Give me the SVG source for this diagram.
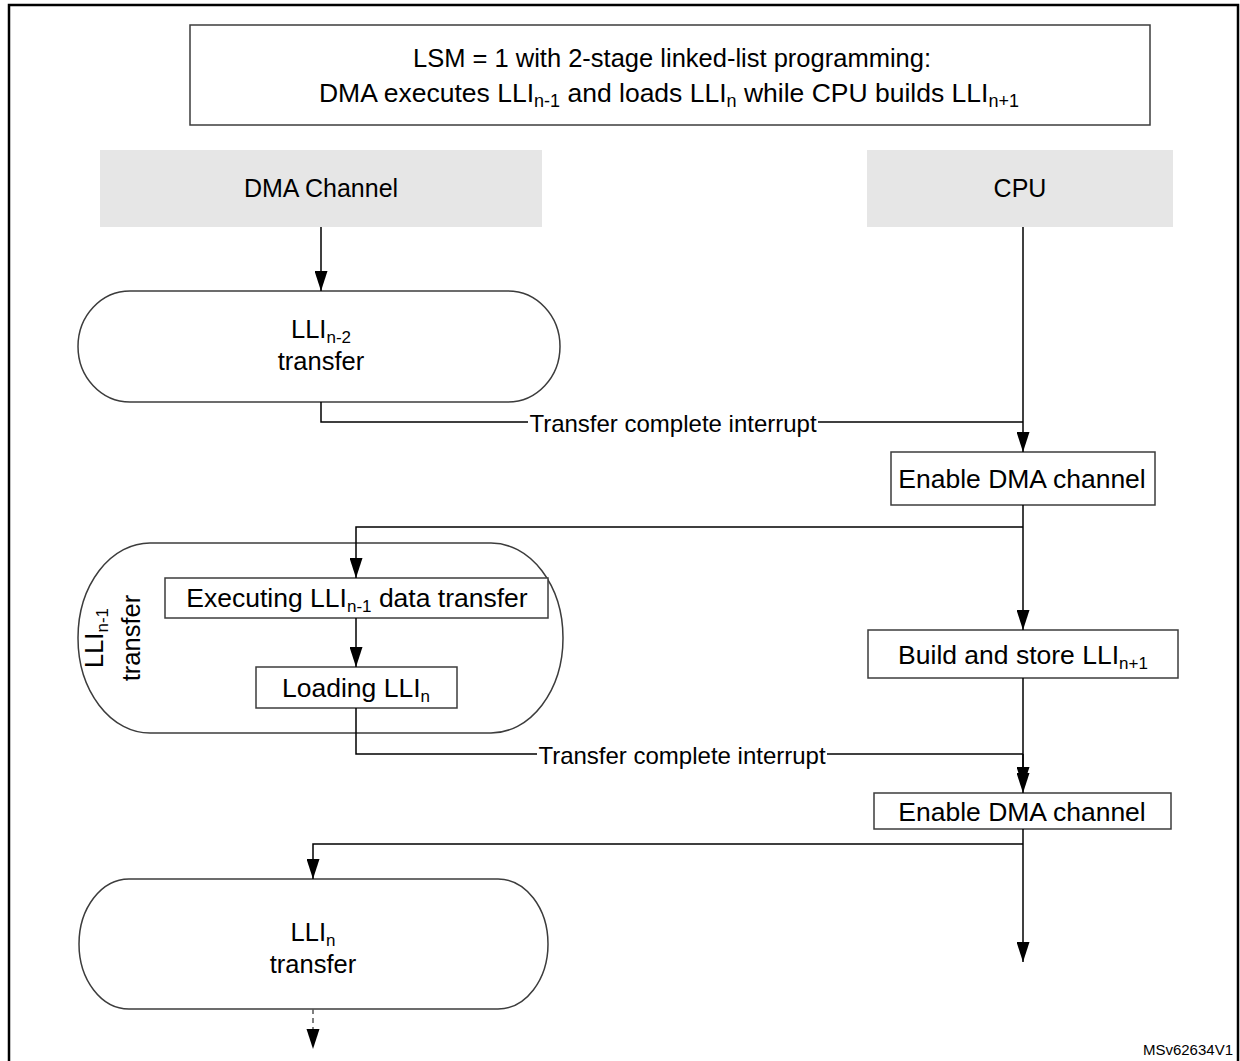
<svg xmlns="http://www.w3.org/2000/svg" width="1240" height="1061" viewBox="0 0 1240 1061">
<defs>
<marker id="ad" markerUnits="userSpaceOnUse" markerWidth="20" markerHeight="13" refX="20" refY="6.5" orient="auto" viewBox="0 0 20 13">
<path d="M0,0 L20,6.5 L0,13 z" fill="#000"/>
</marker>
<style>
text{font-family:"Liberation Sans",Arial,Helvetica,sans-serif;fill:#000;}
.ttl{font-size:25.5px;text-anchor:middle;}
.ttl2{font-size:26.5px;text-anchor:middle;}
.hd{font-size:25px;text-anchor:middle;}
.pl{font-size:25.5px;text-anchor:middle;}
.lbl{font-size:26.5px;text-anchor:middle;}
.int{font-size:24px;text-anchor:middle;}
.sub{font-size:17px;}
.sub2{font-size:18px;}
.box{fill:#fff;stroke:#3c3c3c;stroke-width:1.5;}
.hdr{fill:#e6e6e6;stroke:none;}
.pill{fill:#fff;stroke:#3c3c3c;stroke-width:1.5;}
.ln{fill:none;stroke:#000;stroke-width:1.5;}
.arr{fill:none;stroke:#000;stroke-width:1.5;marker-end:url(#ad);}
.dash{fill:none;stroke:#555;stroke-width:1.5;stroke-dasharray:5,4;}
</style>
</defs>
<rect x="9" y="5" width="1229" height="1070" fill="none" stroke="#000" stroke-width="2.5"/>

<g id="title">
<rect class="box" x="190" y="25" width="960" height="100"/>
<text class="ttl" x="672" y="67">LSM = 1 with 2-stage linked-list programming:</text>
<text class="ttl2" x="669" y="102">DMA executes LLI<tspan class="sub2" dy="5">n-1</tspan><tspan dy="-5"> and loads LLI</tspan><tspan class="sub2" dy="5">n</tspan><tspan dy="-5"> while CPU builds LLI</tspan><tspan class="sub2" dy="5">n+1</tspan></text>
</g>

<g id="hdr-dma">
<rect class="hdr" x="100" y="150" width="442" height="77"/>
<text class="hd" x="321" y="197">DMA Channel</text>
</g>
<g id="hdr-cpu">
<rect class="hdr" x="867" y="150" width="306" height="77"/>
<text class="hd" x="1020" y="197">CPU</text>
</g>

<g id="lli-n2">
<rect class="pill" x="78" y="291" width="482" height="111" rx="52" ry="55.5"/>
<text class="pl" x="321" y="338">LLI<tspan class="sub" dy="5">n-2</tspan></text>
<text class="pl" x="321" y="370">transfer</text>
</g>

<g id="enable1">
<rect class="box" x="891" y="452" width="264" height="53"/>
<text class="lbl" x="1022" y="488">Enable DMA channel</text>
</g>

<g id="lli-n1">
<rect class="pill" x="78" y="543" width="485" height="190" rx="72" ry="95"/>
<text class="pl" transform="translate(103,638) rotate(-90)">LLI<tspan class="sub" dy="5">n-1</tspan></text>
<text class="pl" transform="translate(140,638) rotate(-90)">transfer</text>
</g>

<g id="exec">
<rect class="box" x="165" y="578" width="383" height="40"/>
<text class="lbl" x="357" y="607">Executing LLI<tspan class="sub" dy="5">n-1</tspan><tspan dy="-5"> data transfer</tspan></text>
</g>

<g id="loading">
<rect class="box" x="256" y="667" width="201" height="41"/>
<text class="lbl" x="356" y="697">Loading LLI<tspan class="sub" dy="5">n</tspan></text>
</g>

<g id="build">
<rect class="box" x="868" y="630" width="310" height="48"/>
<text class="lbl" x="1023" y="664">Build and store LLI<tspan class="sub" dy="5">n+1</tspan></text>
</g>

<g id="enable2">
<rect class="box" x="874" y="793" width="297" height="36"/>
<text class="lbl" x="1022" y="821">Enable DMA channel</text>
</g>

<g id="lli-n">
<rect class="pill" x="79" y="879" width="469" height="130" rx="50" ry="65"/>
<text class="pl" x="313" y="941">LLI<tspan class="sub" dy="5">n</tspan></text>
<text class="pl" x="313" y="973">transfer</text>
</g>

<g id="connectors">
<path class="arr" d="M321,227 V291"/>
<path class="ln" d="M321,402 V422 H528"/>
<path class="ln" d="M818,422 H1023"/>
<text class="int" x="673" y="432">Transfer complete interrupt</text>
<path class="arr" d="M1023,227 V452"/>
<path class="arr" d="M1023,505 V630"/>
<path class="arr" d="M1023,527 H356 V578"/>
<path class="arr" d="M356,618 V667"/>
<path class="ln" d="M356,708 V754 H537"/>
<path class="ln" d="M827,754 H1023"/>
<text class="int" x="682" y="764">Transfer complete interrupt</text>
<path class="arr" d="M1023,678 V787"/>
<path class="arr" d="M1023,754 V793"/>
<path class="arr" d="M1023,829 V962"/>
<path class="arr" d="M1023,844 H313 V879"/>
<path class="dash" d="M313,1009 V1032"/>
<path d="M306.5,1029 L319.5,1029 L313,1049 z" fill="#000"/>
</g>

<text x="1233" y="1055" style="font-size:15px;text-anchor:end;">MSv62634V1</text>
</svg>
